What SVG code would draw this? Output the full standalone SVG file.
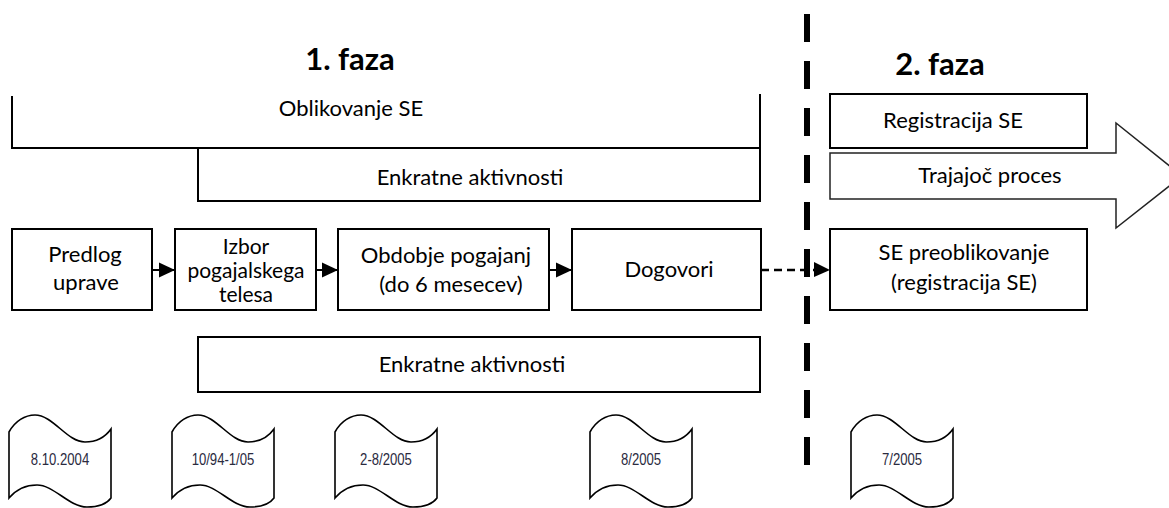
<svg xmlns="http://www.w3.org/2000/svg" width="1169" height="508" viewBox="0 0 1169 508">
<style>
.t{font-family:Lato,"Open Sans",sans-serif;font-size:22px;fill:#000;text-anchor:middle}
.s{font-size:21px}
.h{font-family:Lato,"Open Sans",sans-serif;font-size:31px;font-weight:bold;fill:#000;text-anchor:middle}
.d{font-family:"Liberation Sans",Arial,sans-serif;font-size:16px;fill:#2b2b3f;text-anchor:middle}
.b{fill:#fff;stroke:#000;stroke-width:2}
.ln{fill:none;stroke:#000;stroke-width:2}
.flag{fill:#fff;stroke:#000;stroke-width:1.6}
</style>
<defs>
<marker id="ah" markerUnits="userSpaceOnUse" markerWidth="16" markerHeight="16" viewBox="0 0 16 16" refX="16" refY="8" orient="auto">
<path d="M0,0.5 L16,8 L0,15.5 Z" fill="#000"/>
</marker>
<path id="fl" d="M0,17 C6,6 16,0 26,0 C44,0 58,27 76,27 C88,27 97,21 102,14 L102,83 C97,90 88,92 78,92 C60,92 45,70 28,70 C16,70 6,76 0,83 Z"/>
</defs>
<rect width="1169" height="508" fill="#fff"/>
<text class="h" x="350" y="70">1. faza</text>
<text class="h" x="940" y="75">2. faza</text>
<g id="divider"><line x1="807" y1="14" x2="807" y2="465" stroke="#000" stroke-width="6" stroke-dasharray="28 19"/></g>
<g id="oblikovanje"><path class="ln" d="M12,96 V148 H760 V94"/><text class="t" x="351" y="116">Oblikovanje SE</text></g>
<g id="enkratne1"><rect class="b" x="198" y="148" width="562" height="53"/><text class="t" x="470" y="185">Enkratne aktivnosti</text></g>
<g id="registracija"><rect class="b" x="830" y="94" width="257" height="54"/><text class="t" x="953" y="128">Registracija SE</text></g>
<g id="trajajoc"><path d="M830,153 H1116 V123 L1182,176 L1116,228 V199 H830 Z" fill="#fff" stroke="#222" stroke-width="1.5"/><text class="t" x="990" y="183">Trajajoč proces</text></g>
<g id="predlog"><rect class="b" x="12" y="229" width="140" height="81"/><text class="t" x="85" y="262">Predlog</text><text class="t" x="86" y="290">uprave</text></g>
<g id="izbor"><rect class="b" x="175" y="229" width="141" height="81"/><text class="t s" x="246" y="254">Izbor</text><text class="t s" x="246" y="278">pogajalskega</text><text class="t s" x="246" y="302">telesa</text></g>
<g id="obdobje"><rect class="b" x="338" y="229" width="211" height="81"/><text class="t" x="446" y="263">Obdobje pogajanj</text><text class="t" x="451" y="292">(do 6 mesecev)</text></g>
<g id="dogovori"><rect class="b" x="572" y="229" width="189" height="81"/><text class="t" x="669" y="277">Dogovori</text></g>
<g id="preoblikovanje"><rect class="b" x="830" y="229" width="257" height="81"/><text class="t" x="964" y="260">SE preoblikovanje</text><text class="t" x="964" y="290">(registracija SE)</text></g>
<g id="enkratne2"><rect class="b" x="198" y="337" width="562" height="55"/><text class="t" x="472" y="372">Enkratne aktivnosti</text></g>
<g id="connectors">
<line class="ln" x1="152" y1="270" x2="175" y2="270" marker-end="url(#ah)"/>
<line class="ln" x1="316" y1="270" x2="338" y2="270" marker-end="url(#ah)"/>
<line class="ln" x1="549" y1="270" x2="572" y2="270" marker-end="url(#ah)"/>
<line x1="761" y1="270" x2="816" y2="270" stroke="#000" stroke-width="2.5" stroke-dasharray="8 5"/>
<path d="M814,262 L830,270 L814,277 Z" fill="#000"/>
</g>
<g id="flag1"><use href="#fl" class="flag" x="9" y="415"/><text class="d" transform="translate(60,465) scale(0.82,1)">8.10.2004</text></g>
<g id="flag2"><use href="#fl" class="flag" x="172" y="415"/><text class="d" transform="translate(223,465) scale(0.82,1)">10/94-1/05</text></g>
<g id="flag3"><use href="#fl" class="flag" x="335" y="415"/><text class="d" transform="translate(386,465) scale(0.82,1)">2-8/2005</text></g>
<g id="flag4"><use href="#fl" class="flag" x="590" y="415"/><text class="d" transform="translate(641,465) scale(0.82,1)">8/2005</text></g>
<g id="flag5"><use href="#fl" class="flag" x="851" y="415"/><text class="d" transform="translate(902,465) scale(0.82,1)">7/2005</text></g>
</svg>
